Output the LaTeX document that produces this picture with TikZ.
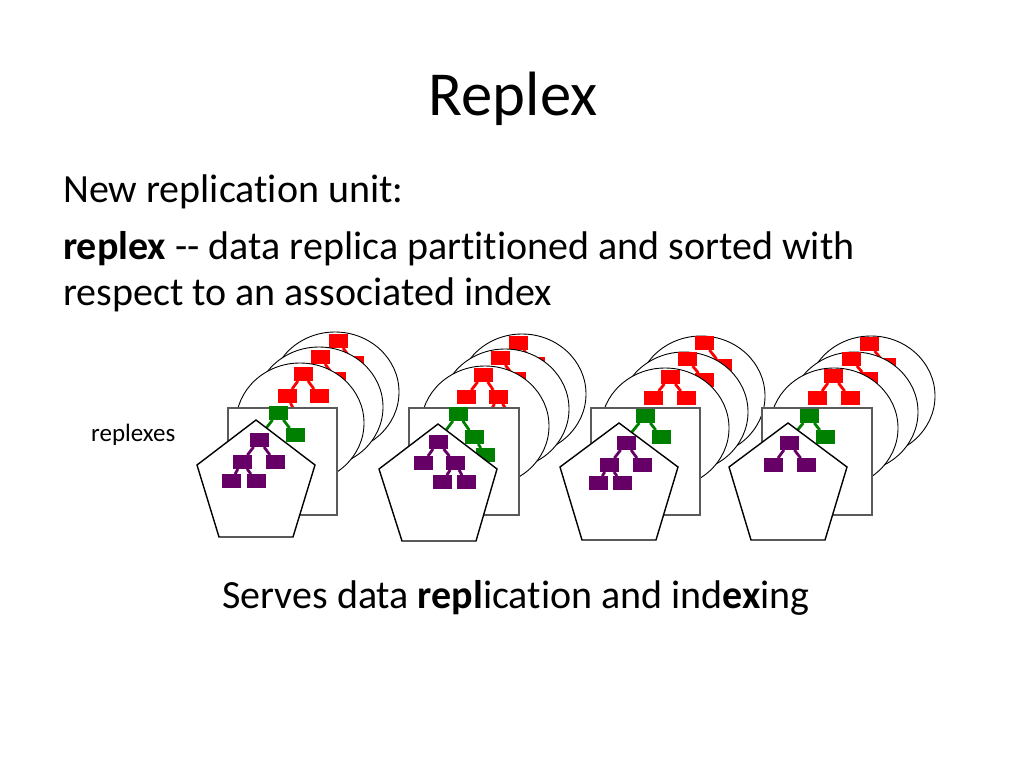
\documentclass[tikz,border=0pt]{standalone}
\usepackage{fontspec}
\setmainfont{Carlito}[Ligatures={NoCommon}]
\definecolor{myred}{RGB}{255,0,0}
\definecolor{mygreen}{RGB}{0,128,0}
\definecolor{mypurple}{RGB}{102,0,102}
\definecolor{sqgray}{RGB}{90,90,90}
\tikzset{
  bx/.style={minimum width=19pt, minimum height=13.5pt, inner sep=0pt, draw=none},
  rbox/.style={bx, fill=myred},
  gbox/.style={bx, fill=mygreen},
  pbox/.style={bx, fill=mypurple},
  redge/.style={draw=myred, line width=2.8pt},
  gedge/.style={draw=mygreen, line width=2.8pt},
  pedge/.style={draw=mypurple, line width=2.8pt},
  ell/.style={draw=black, line width=0.9pt, fill=white},
  sqr/.style={draw=sqgray, line width=1.3pt, fill=white},
  pent/.style={draw=black, line width=1.4pt, fill=white, line join=miter},
  txt/.style={anchor=base west, inner sep=0pt, text=black},
}
\begin{document}
\begin{tikzpicture}[x=1pt,y=-1pt]
\useasboundingbox[fill=white] (0,0) rectangle (1024,768);

% texts
\node[anchor=base, inner sep=0pt] (title) at (513,115) {\fontsize{62.6}{75}\selectfont Replex};
\node[txt] (l1) at (63,202) {\fontsize{40}{48}\selectfont New replication unit:};
\node[txt] (l2) at (63,259) {\fontsize{40}{48}\selectfont \textbf{replex} -{}- data replica partitioned and sorted with};
\node[txt] (l3) at (63,305) {\fontsize{40}{48}\selectfont respect to an associated index};
\node[txt] (lab) at (91,441) {\fontsize{25}{30}\selectfont replexes};
\node[txt] (bot) at (222,608) {\fontsize{40}{48}\selectfont Serves data \textbf{repl}ication and ind\textbf{ex}ing};

% ================= Group 1 =================
\path[ell] (335,392) ellipse [x radius=64pt, y radius=60pt];
\node[rbox] (a1b0) at (338,341) {};
\node[rbox] (a1b2) at (354,363) {};
\draw[redge] (a1b0) -- (a1b2);
\path[ell] (319,407) ellipse [x radius=64pt, y radius=60pt];
\node[rbox] (a1m0) at (320,357) {};
\node[rbox] (a1m2) at (336,379) {};
\draw[redge] (a1m0) -- (a1m2);
\path[ell] (300,423) ellipse [x radius=64pt, y radius=60pt];
\coordinate (a1fs) at (298,418);
\node[rbox] (a1f0) at (303,374) {};
\node[rbox] (a1f1) at (287,396) {};
\node[rbox] (a1f2) at (319,396) {};
\draw[redge] (a1f0) -- (a1f1);
\draw[redge] (a1f0) -- (a1f2);
\draw[redge] (a1f1) -- (a1fs);
\path[sqr] (228,408) rectangle (337,515);
\coordinate (a1gs) at (260,436);
\node[gbox] (a1g0) at (278,413) {};
\node[gbox] (a1g2) at (295,435) {};
\draw[gedge] (a1g0) -- (a1g2);
\draw[gedge] (a1g0) -- (a1gs);
\path[pent] (256,420) -- (315,465) -- (293,537) -- (219,537) -- (197,465) -- cycle;
\node[pbox] (a1p0) at (259,440) {};
\node[pbox] (a1p1) at (242,462) {};
\node[pbox] (a1p2) at (275,462) {};
\node[pbox] (a1p3) at (231,481) {};
\node[pbox] (a1p4) at (256,481) {};
\draw[pedge] (a1p0) -- (a1p1);
\draw[pedge] (a1p0) -- (a1p2);
\draw[pedge] (a1p1) -- (a1p3);
\draw[pedge] (a1p1) -- (a1p4);

% ================= Group 2 =================
\path[ell] (522,394) ellipse [x radius=64pt, y radius=60pt];
\node[rbox] (a2b0) at (518,343) {};
\node[rbox] (a2b2) at (535,364) {};
\draw[redge] (a2b0) -- (a2b2);
\path[ell] (505,409) ellipse [x radius=64pt, y radius=60pt];
\node[rbox] (a2m0) at (500,358) {};
\node[rbox] (a2m2) at (516,379) {};
\draw[redge] (a2m0) -- (a2m2);
\path[ell] (485,426) ellipse [x radius=64pt, y radius=60pt];
\coordinate (a2fs1) at (487,418);
\coordinate (a2fs2) at (512,418);
\node[rbox] (a2f0) at (483,375) {};
\node[rbox] (a2f1) at (466,397) {};
\node[rbox] (a2f2) at (498,397) {};
\draw[redge] (a2f0) -- (a2f1);
\draw[redge] (a2f0) -- (a2f2);
\draw[redge] (a2f2) -- (a2fs1);
\draw[redge] (a2f2) -- (a2fs2);
\path[sqr] (409,408) rectangle (519,515);
\coordinate (a2gs) at (441,437);
\node[gbox] (a2g0) at (458,414) {};
\node[gbox] (a2g2) at (474,437) {};
\node[gbox] (a2g4) at (485,455) {};
\draw[gedge] (a2g0) -- (a2g2);
\draw[gedge] (a2g0) -- (a2gs);
\draw[gedge] (a2g2) -- (a2g4);
\path[pent] (438,424) -- (497,469) -- (476,541) -- (402,541) -- (379,469) -- cycle;
\node[pbox] (a2p0) at (438,442) {};
\node[pbox] (a2p1) at (423,463) {};
\node[pbox] (a2p2) at (455,463) {};
\node[pbox] (a2p3) at (442,482) {};
\node[pbox] (a2p4) at (466,482) {};
\draw[pedge] (a2p0) -- (a2p1);
\draw[pedge] (a2p0) -- (a2p2);
\draw[pedge] (a2p2) -- (a2p3);
\draw[pedge] (a2p2) -- (a2p4);

% ================= Group 3 =================
\path[ell] (701,396) ellipse [x radius=64pt, y radius=60pt];
\node[rbox] (a3b0) at (704,343) {};
\node[rbox] (a3b2) at (722,366) {};
\draw[redge] (a3b0) -- (a3b2);
\path[ell] (684,412) ellipse [x radius=64pt, y radius=60pt];
\node[rbox] (a3m0) at (687,359) {};
\node[rbox] (a3m2) at (704,380) {};
\draw[redge] (a3m0) -- (a3m2);
\path[ell] (665,428) ellipse [x radius=64pt, y radius=60pt];
\node[rbox] (a3f0) at (670,377) {};
\node[rbox] (a3f1) at (653,398) {};
\node[rbox] (a3f2) at (686,398) {};
\draw[redge] (a3f0) -- (a3f1);
\draw[redge] (a3f0) -- (a3f2);
\path[sqr] (591,408) rectangle (700,515);
\coordinate (a3gs) at (627,438);
\node[gbox] (a3g0) at (645,416) {};
\node[gbox] (a3g2) at (661,437) {};
\draw[gedge] (a3g0) -- (a3g2);
\draw[gedge] (a3g0) -- (a3gs);
\path[pent] (619,423) -- (678,467) -- (656,540) -- (582,540) -- (560,467) -- cycle;
\node[pbox] (a3p0) at (626,443) {};
\node[pbox] (a3p1) at (609,465) {};
\node[pbox] (a3p2) at (642,465) {};
\node[pbox] (a3p3) at (598,483) {};
\node[pbox] (a3p4) at (622,483) {};
\draw[pedge] (a3p0) -- (a3p1);
\draw[pedge] (a3p0) -- (a3p2);
\draw[pedge] (a3p1) -- (a3p3);
\draw[pedge] (a3p1) -- (a3p4);

% ================= Group 4 =================
\path[ell] (871,396) ellipse [x radius=64pt, y radius=60pt];
\node[rbox] (a4b0) at (869,344) {};
\node[rbox] (a4b2) at (886,365) {};
\draw[redge] (a4b0) -- (a4b2);
\path[ell] (854,412) ellipse [x radius=64pt, y radius=60pt];
\node[rbox] (a4m0) at (851,359) {};
\node[rbox] (a4m2) at (868,379) {};
\draw[redge] (a4m0) -- (a4m2);
\path[ell] (834,428) ellipse [x radius=64pt, y radius=60pt];
\node[rbox] (a4f0) at (833,376) {};
\node[rbox] (a4f1) at (817,398) {};
\node[rbox] (a4f2) at (850,398) {};
\draw[redge] (a4f0) -- (a4f1);
\draw[redge] (a4f0) -- (a4f2);
\path[sqr] (762,408) rectangle (872,515);
\coordinate (a4gs) at (791,438);
\node[gbox] (a4g0) at (809,416) {};
\node[gbox] (a4g2) at (825,437) {};
\draw[gedge] (a4g0) -- (a4g2);
\draw[gedge] (a4g0) -- (a4gs);
\path[pent] (788,423) -- (847,467) -- (825,540) -- (751,540) -- (729,467) -- cycle;
\node[pbox] (a4p0) at (789,443) {};
\node[pbox] (a4p1) at (773,465) {};
\node[pbox] (a4p2) at (806,465) {};
\draw[pedge] (a4p0) -- (a4p1);
\draw[pedge] (a4p0) -- (a4p2);
\end{tikzpicture}
\end{document}
